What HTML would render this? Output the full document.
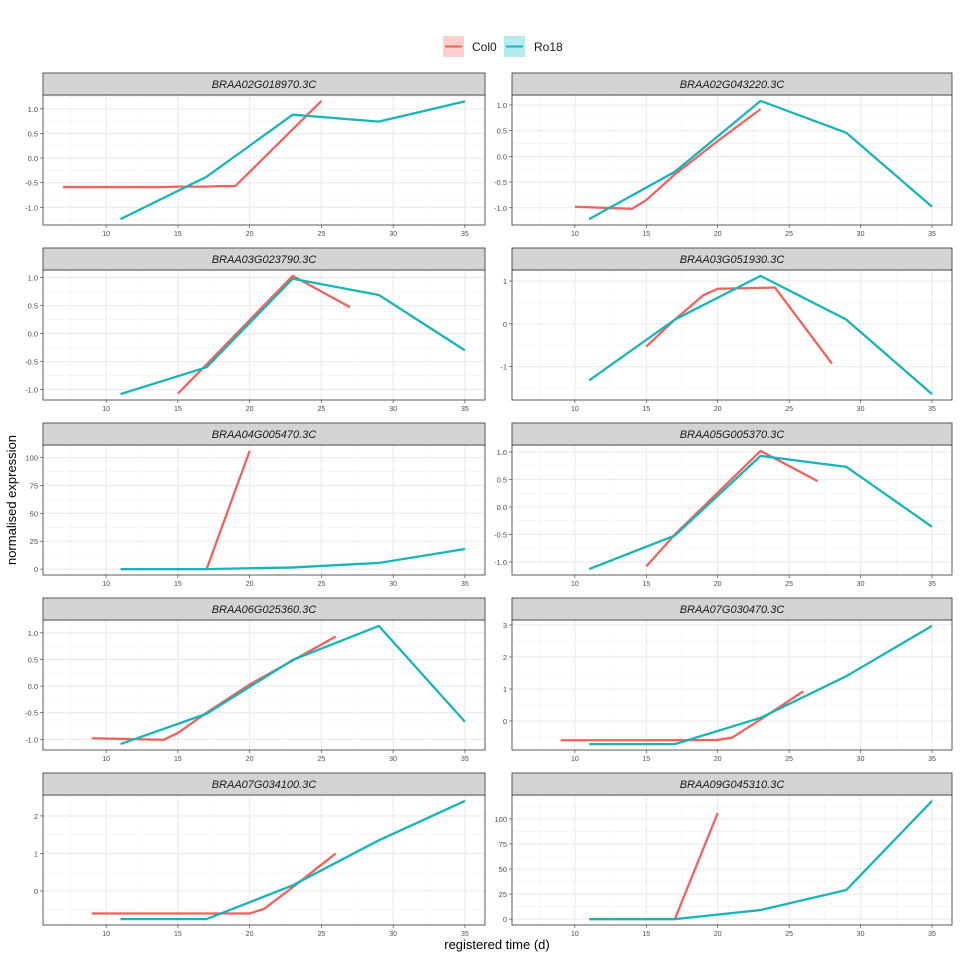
<!DOCTYPE html>
<html><head><meta charset="utf-8"><style>
body{margin:0;background:#fff;font-family:"Liberation Sans",Arial,sans-serif}
svg text{font-family:"Liberation Sans",Arial,sans-serif}
</style></head><body>
<svg id="chart" width="960" height="960" xmlns="http://www.w3.org/2000/svg">
<rect width="960" height="960" fill="#fff"/>
<g>
<rect x="443" y="36" width="21" height="21" fill="#F8766D" fill-opacity="0.35"/>
<line x1="445" y1="46.5" x2="462" y2="46.5" stroke="#F2625C" stroke-width="2"/>
<text x="472" y="51" font-size="12" fill="#1a1a1a">Col0</text>
<rect x="504" y="36" width="21" height="21" fill="#00BFC4" fill-opacity="0.3"/>
<line x1="506" y1="46.5" x2="523" y2="46.5" stroke="#17B5BA" stroke-width="2"/>
<text x="534" y="51" font-size="12" fill="#1a1a1a">Ro18</text>
</g>
<text transform="translate(16,500) rotate(-90)" text-anchor="middle" font-size="13" fill="#000">normalised expression</text>
<text x="497" y="949" text-anchor="middle" font-size="13" fill="#000">registered time (d)</text>
<g id="panels"></g>
</svg>
<script>
const genes = ["BRAA02G018970.3C","BRAA02G043220.3C","BRAA03G023790.3C","BRAA03G051930.3C","BRAA04G005470.3C","BRAA05G005370.3C","BRAA06G025360.3C","BRAA07G030470.3C","BRAA07G034100.3C","BRAA09G045310.3C"];
const col0X = [
 [7,8,9,10,11,12,13,14,15,16,17,18,19,25],
 [10,14,15,17,20,23],
 [15,17,23,27],
 [15,17,19,20,23,24,28],
 [11,12,13,14,15,16,17,20],
 [15,17,23,27],
 [9,14,15,17,20,23,26],
 [9,15,20,21,23,26],
 [9,15,20,21,23,26],
 [11,12,13,14,15,16,17,20]
];
const col0Y = [
 [-0.59,-0.59,-0.59,-0.59,-0.59,-0.59,-0.59,-0.59,-0.58,-0.58,-0.58,-0.57,-0.57,1.16],
 [-0.98,-1.02,-0.85,-0.35,0.3,0.92],
 [-1.07,-0.55,1.03,0.47],
 [-0.53,0.1,0.67,0.82,0.84,0.85,-0.93],
 [0,0,0,0,0,0,0,106],
 [-1.08,-0.5,1.02,0.47],
 [-0.98,-1.01,-0.88,-0.5,0.03,0.48,0.93],
 [-0.6,-0.6,-0.59,-0.52,0.05,0.93],
 [-0.6,-0.6,-0.6,-0.48,0.1,1.0],
 [0,0,0,0,0,0,0,106]
];
const ro18X = [11,17,23,29,35];
const ro18Y = [
 [-1.24,-0.38,0.88,0.74,1.15],
 [-1.22,-0.3,1.08,0.46,-0.98],
 [-1.08,-0.6,0.98,0.69,-0.3],
 [-1.32,0.1,1.12,0.1,-1.64],
 [0,0,1.5,5.5,18],
 [-1.13,-0.52,0.93,0.73,-0.36],
 [-1.09,-0.52,0.49,1.13,-0.67],
 [-0.72,-0.72,0.1,1.4,2.97],
 [-0.75,-0.75,0.15,1.35,2.4],
 [0,0,9,29,118]
];
const yTicks = [
 [-1,-0.5,0,0.5,1],[-1,-0.5,0,0.5,1],[-1,-0.5,0,0.5,1],[-1,0,1],[0,25,50,75,100],
 [-1,-0.5,0,0.5,1],[-1,-0.5,0,0.5,1],[0,1,2,3],[0,1,2],[0,25,50,75,100]
];
const yTickLabels = [
 ["-1.0","-0.5","0.0","0.5","1.0"],["-1.0","-0.5","0.0","0.5","1.0"],["-1.0","-0.5","0.0","0.5","1.0"],["-1","0","1"],["0","25","50","75","100"],
 ["-1.0","-0.5","0.0","0.5","1.0"],["-1.0","-0.5","0.0","0.5","1.0"],["0","1","2","3"],["0","1","2"],["0","25","50","75","100"]
];
const xTicks = [10,15,20,25,30,35];

const NS="http://www.w3.org/2000/svg";
const root=document.getElementById('panels');
function mk(tag,attrs,parent){const e=document.createElementNS(NS,tag);for(const k in attrs)e.setAttribute(k,attrs[k]);(parent||root).appendChild(e);return e;}
const xmin=5.6,xmax=36.4;
genes.forEach((g,i)=>{
  const col=i%2,row=Math.floor(i/2);
  const L=col?512:43,R=col?952:485;
  const st=73+row*175,T=st+22,B=T+130;
  const gr=mk('g',{});
  
  
  const all=col0Y[i].concat(ro18Y[i]);
  let lo=Math.min(...all),hi=Math.max(...all);const pad=(hi-lo)*0.05;lo-=pad;hi+=pad;
  const sx=v=>L+(v-xmin)/(xmax-xmin)*(R-L);
  const sy=v=>B-(v-lo)/(hi-lo)*(B-T);
  const yt=yTicks[i],step=yt[1]-yt[0];
  for(let v=yt[0]-step/2;v<=yt[yt.length-1]+step;v+=step){if(v>lo&&v<hi)mk('line',{x1:L,x2:R,y1:sy(v),y2:sy(v),stroke:'#f2f2f2','stroke-width':0.6},gr);}
  for(let v=7.5;v<36.4;v+=5)mk('line',{x1:sx(v),x2:sx(v),y1:T,y2:B,stroke:'#f2f2f2','stroke-width':0.6},gr);
  yt.forEach((v,k)=>{
    mk('line',{x1:L,x2:R,y1:sy(v),y2:sy(v),stroke:'#ebebeb','stroke-width':1.1},gr);
    mk('line',{x1:L-3,x2:L,y1:sy(v),y2:sy(v),stroke:'#333','stroke-width':0.6},gr);
    const t=mk('text',{x:L-5,y:sy(v)+3,'text-anchor':'end','font-size':7.5,fill:'#4d4d4d'},gr);
    t.textContent=yTickLabels[i][k];
    
    
  });
  xTicks.forEach(v=>{
    mk('line',{x1:sx(v),x2:sx(v),y1:T,y2:B,stroke:'#ebebeb','stroke-width':1.1},gr);
    mk('line',{x1:sx(v),x2:sx(v),y1:B,y2:B+3,stroke:'#333','stroke-width':0.6},gr);
    const t=mk('text',{x:sx(v),y:B+11,'text-anchor':'middle','font-size':7,fill:'#4d4d4d'},gr);
    t.textContent=v;
    
    
  });
  const s1=mk('polyline',{points:col0X[i].map((x,k)=>sx(x)+','+sy(col0Y[i][k])).join(' '),fill:'none',stroke:'#F2625C','stroke-width':2.3,'stroke-linejoin':'round'},gr);
  
  
  const s2=mk('polyline',{points:ro18X.map((x,k)=>sx(x)+','+sy(ro18Y[i][k])).join(' '),fill:'none',stroke:'#17B5BA','stroke-width':2.3,'stroke-linejoin':'round'},gr);
  
  
  mk('rect',{x:L,y:T,width:R-L,height:B-T,fill:'none',stroke:'#333','stroke-width':0.8},gr);
  const sr=mk('rect',{x:L,y:st,width:R-L,height:22,fill:'#d4d4d4',stroke:'#333','stroke-width':0.8},gr);
  
  
  const tt=mk('text',{x:(L+R)/2,y:st+15,'text-anchor':'middle','font-size':11,'font-style':'italic',fill:'#1a1a1a'},gr);
  tt.textContent=g;
  
  
});
</script>
</body></html>
